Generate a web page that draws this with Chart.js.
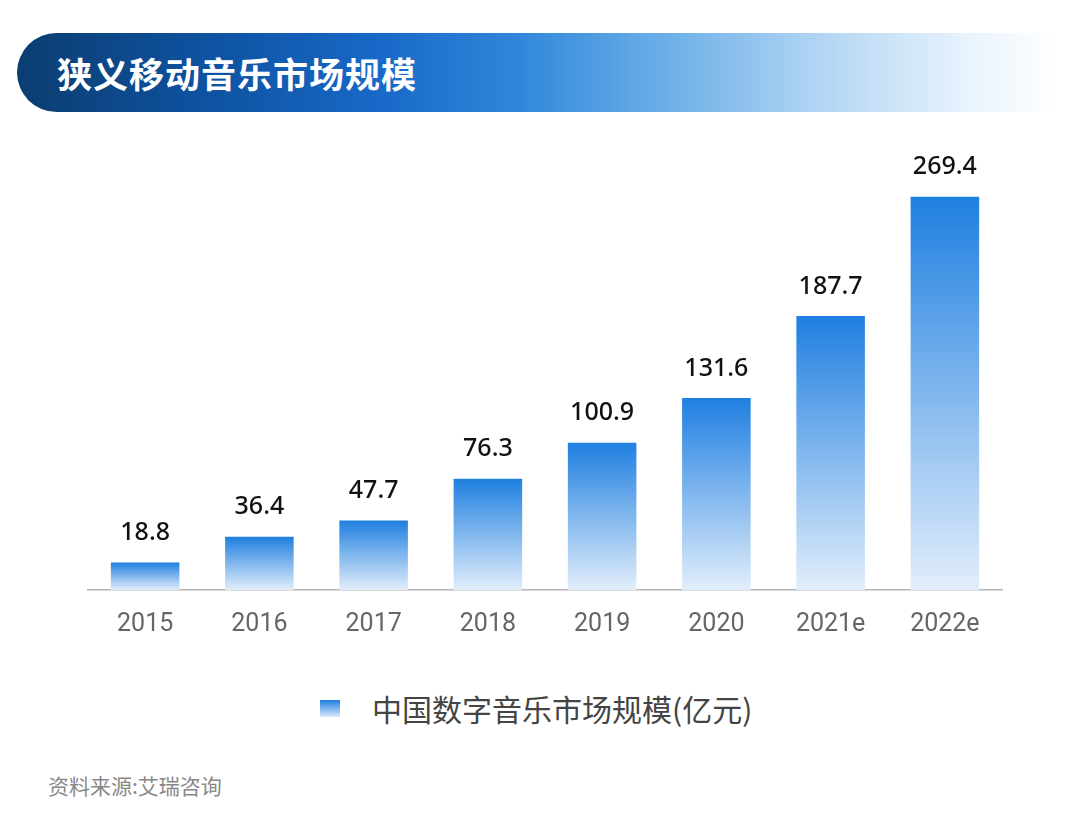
<!DOCTYPE html>
<html>
<head>
<meta charset="utf-8">
<script src="https://cdn.jsdelivr.net/npm/chart.js@4.4.0/dist/chart.umd.min.js"></script>
<style>
  html, body { margin: 0; padding: 0; background: #fff; }
  body { width: 1080px; height: 823px; position: relative; overflow: hidden;
         font-family: "Noto Sans CJK SC", "Noto Sans", sans-serif; }
  .banner { position: absolute; left: 17px; top: 33px; width: 1040px; height: 79px;
            border-radius: 40px 0 0 40px;
            background: linear-gradient(to right, #0b3d70 0%, #0e52a0 18%, #1869c8 35%, #2f86da 48%, #6aaee8 62%, #b5d7f4 78%, #eaf4fd 92%, #ffffff 100%); }
  .banner h1 { margin: 0; position: absolute; left: 40px; top: 0; line-height: 79px;
               color: #fff; font-size: 35px; font-weight: 700; letter-spacing: 1px; }
  .chart-box { position: absolute; left: 0; top: 120px; width: 1080px; height: 540px; }
  .legend { position: absolute; left: 320px; top: 688px; height: 40px; display: flex; align-items: center; }
  .legend i { display: inline-block; width: 20px; height: 17px; margin-right: 32px;
              background: linear-gradient(to bottom, #1f7fe0, #d8e9fa); }
  .legend span { font-size: 30px; color: #444; }
  .source { position: absolute; left: 48px; top: 770px; font-size: 21px; color: #888; }
</style>
</head>
<body>
<div class="banner"><h1>狭义移动音乐市场规模</h1></div>
<div class="chart-box"><canvas id="market-chart"></canvas></div>
<div class="legend"><i></i><span>中国数字音乐市场规模(亿元)</span></div>
<div class="source">资料来源:艾瑞咨询</div>

<script>
// dados do gráfico
const years = ['2015', '2016', '2017', '2018', '2019', '2020', '2021e', '2022e'];
const marketSize = [18.8, 36.4, 47.7, 76.3, 100.9, 131.6, 187.7, 269.4];
const seriesName = '中国数字音乐市场规模(亿元)';

// gradiente por barra, do topo até a base
function barGradient(context) {
  const chart = context.chart;
  const yScale = chart.scales.y;
  if (!chart.chartArea || !yScale) return '#1f7fe0';
  const v = context.raw;
  const top = yScale.getPixelForValue(v);
  const bottom = yScale.getPixelForValue(0);
  const g = chart.ctx.createLinearGradient(0, top, 0, bottom);
  g.addColorStop(0, '#1f7fe0');
  g.addColorStop(1, '#e2eefb');
  return g;
}

// rótulos de valor acima das barras
const valueLabels = {
  id: 'valueLabels',
  afterDatasetsDraw(chart) {
    const ctx = chart.ctx;
    const meta = chart.getDatasetMeta(0);
    ctx.save();
    ctx.font = '500 25px "Noto Sans", Roboto, sans-serif';
    ctx.fillStyle = '#111';
    ctx.textAlign = 'center';
    ctx.textBaseline = 'bottom';
    meta.data.forEach((bar, i) => {
      ctx.fillText(marketSize[i].toFixed(1), bar.x, bar.y - 17);
    });
    ctx.restore();
  }
};

const ctx = document.getElementById('market-chart').getContext('2d');
new Chart(ctx, {
  type: 'bar',
  data: {
    labels: years,
    datasets: [{
      label: seriesName,
      data: marketSize,
      backgroundColor: barGradient,
      borderWidth: 0,
      barPercentage: 0.6,
      categoryPercentage: 1.0
    }]
  },
  options: {
    responsive: true,
    maintainAspectRatio: false,
    animation: false,
    layout: { padding: { left: 88, right: 78, top: 0, bottom: 0 } },
    plugins: {
      legend: { display: false },
      tooltip: { enabled: false }
    },
    scales: {
      x: {
        grid: { display: false, drawTicks: false },
        border: { display: true, color: '#b5b5b5', width: 1.5 },
        ticks: {
          color: '#666',
          padding: 20,
          font: { family: 'Roboto, "Noto Sans", sans-serif', size: 25 }
        }
      },
      y: {
        display: false,
        min: 0,
        max: 322
      }
    }
  },
  plugins: [valueLabels]
});
</script>
</body>
</html>
